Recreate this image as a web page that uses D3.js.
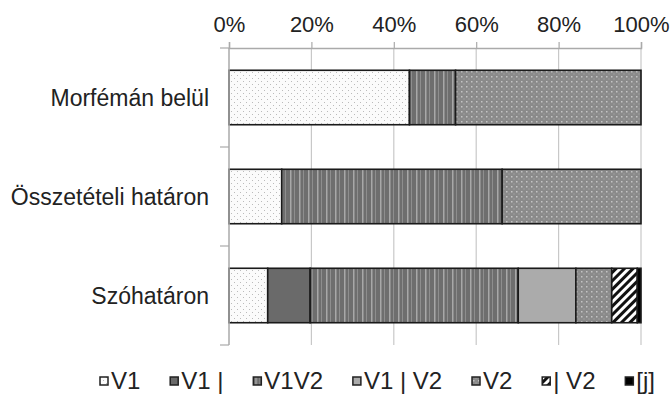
<!DOCTYPE html>
<html><head><meta charset="utf-8">
<script src="https://cdn.jsdelivr.net/npm/d3@7"></script>
<style>body{margin:0;background:#fff}svg{display:block}text{font-family:"Liberation Sans",Arial,sans-serif;fill:#222}</style>
</head><body><svg id="c" width="671" height="399"></svg>
<script>
const categories = ["Morfémán belül", "Összetételi határon", "Szóhatáron"];
const seriesNames = ["V1", "V1 |", "V1V2", "V1 | V2", "V2", "| V2", "[j]"];
const sV1 = [43.8, 12.8, 9.4];
const sV1bar = [0, 0, 10.3];
const sV1V2 = [11.2, 53.5, 50.5];
const sV1barV2 = [0, 0, 14.0];
const sV2 = [45.0, 33.7, 8.7];
const sBarV2 = [0, 0, 6.2];
const sJ = [0, 0, 0.9];
const tickValues = [0, 0.2, 0.4, 0.6, 0.8, 1.0];

const seriesValues = [sV1, sV1bar, sV1V2, sV1barV2, sV2, sBarV2, sJ];
const fills = ["url(#pV1)", "#6a6a6a", "url(#pV1V2)", "#ababab", "url(#pV2)", "url(#pBarV2)", "#000"];

const svg = d3.select("#c");
const defs = svg.append("defs");
let p = defs.append("pattern").attr("id","pV1").attr("patternUnits","userSpaceOnUse").attr("width",6).attr("height",6);
p.append("rect").attr("width",6).attr("height",6).attr("fill","#fbfbfb");
p.append("rect").attr("x",0).attr("y",0).attr("width",1).attr("height",1).attr("fill","#bbb");
p.append("rect").attr("x",3).attr("y",3).attr("width",1).attr("height",1).attr("fill","#bbb");
p = defs.append("pattern").attr("id","pV1V2").attr("patternUnits","userSpaceOnUse").attr("width",9).attr("height",4);
p.append("rect").attr("width",9).attr("height",4).attr("fill","#6e6e6e");
p.append("rect").attr("x",2).attr("width",1.5).attr("height",4).attr("fill","#a8a8a8");
p.append("rect").attr("x",6).attr("width",1).attr("height",4).attr("fill","#8e8e8e");
p = defs.append("pattern").attr("id","pV2").attr("patternUnits","userSpaceOnUse").attr("width",5).attr("height",5);
p.append("rect").attr("width",5).attr("height",5).attr("fill","#8a8a8a");
p.append("rect").attr("x",1).attr("y",1).attr("width",1.5).attr("height",1.5).attr("fill","#c4c4c4");
p.append("rect").attr("x",3.5).attr("y",3.5).attr("width",1).attr("height",1).attr("fill","#b0b0b0");
p = defs.append("pattern").attr("id","pBarV2").attr("patternUnits","userSpaceOnUse").attr("width",6).attr("height",6)
  .attr("patternTransform","rotate(45)");
p.append("rect").attr("width",6).attr("height",6).attr("fill","#fff");
p.append("rect").attr("width",3).attr("height",6).attr("fill","#111");

const x = d3.scaleLinear().domain([0,1]).range([229,641]);
const y = d3.scaleBand().domain(categories).range([48,345]).paddingInner(0.45).paddingOuter(0.225);
const yb = d3.scaleBand().domain(categories).range([48,345]);

svg.append("g").selectAll("line").data(tickValues.slice(1)).join("line")
  .attr("x1",d=>x(d)).attr("x2",d=>x(d)).attr("y1",48).attr("y2",345)
  .attr("stroke","#c8c8c8").attr("stroke-width",1.2);

const rows = categories.map((c,i)=>{ const o={cat:c}; seriesNames.forEach((s,j)=>o[s]=seriesValues[j][i]/100); return o; });
const stacked = d3.stack().keys(seriesNames)(rows);
svg.append("g").selectAll("g").data(stacked).join("g")
  .attr("fill",(d,i)=>fills[i])
  .selectAll("rect").data(d=>d.filter(v=>v[1]-v[0]>0)).join("rect")
  .attr("x",d=>x(d[0])).attr("width",d=>x(d[1])-x(d[0]))
  .attr("y",d=>y(d.data.cat)).attr("height",y.bandwidth())
  .attr("stroke","#1a1a1a").attr("stroke-width",1.6);

const xAxis = svg.append("g").attr("transform","translate(0,48)")
  .call(d3.axisTop(x).tickValues(tickValues).tickFormat(d3.format(".0%")).tickSize(6).tickPadding(10));
xAxis.select(".domain").attr("stroke","#aaa").attr("stroke-width",1.5);
xAxis.selectAll(".tick line").attr("stroke","#aaa").attr("stroke-width",1.2);
xAxis.selectAll("text").style("font-size","22px").attr("fill","#222");

svg.append("line").attr("x1",229).attr("x2",229).attr("y1",48).attr("y2",345).attr("stroke","#aaa").attr("stroke-width",1.5);
const bounds = categories.map(c=>yb(c)).concat([yb.range()[1]]);
svg.append("g").selectAll("line").data(bounds).join("line")
  .attr("x1",220).attr("x2",229).attr("y1",d=>d).attr("y2",d=>d).attr("stroke","#aaa").attr("stroke-width",1.2);
svg.append("g").selectAll("text").data(categories).join("text")
  .attr("x",209).attr("y",d=>y(d)+y.bandwidth()/2).attr("dy","0.35em")
  .attr("text-anchor","end").style("font-size","23px").text(d=>d);

// legend: spread from x=100 to x=655
const lg = svg.append("g");
const items = seriesNames.map((s,i)=>{
  const g = lg.append("g");
  g.append("rect").attr("x",0).attr("y",-12).attr("width",8).attr("height",8)
    .attr("fill",fills[i]).attr("stroke","#222").attr("stroke-width",1.5);
  const t = g.append("text").attr("x",11).attr("y",0).style("font-size","24px").text(s);
  return {g, w: 11 + t.node().getComputedTextLength()};
});
const totalW = d3.sum(items, d=>d.w);
const gap = (655 - 100 - totalW) / (items.length - 1);
let lx = 100;
items.forEach(it=>{ it.g.attr("transform",`translate(${lx},389)`); lx += it.w + gap; });
</script></body></html>
